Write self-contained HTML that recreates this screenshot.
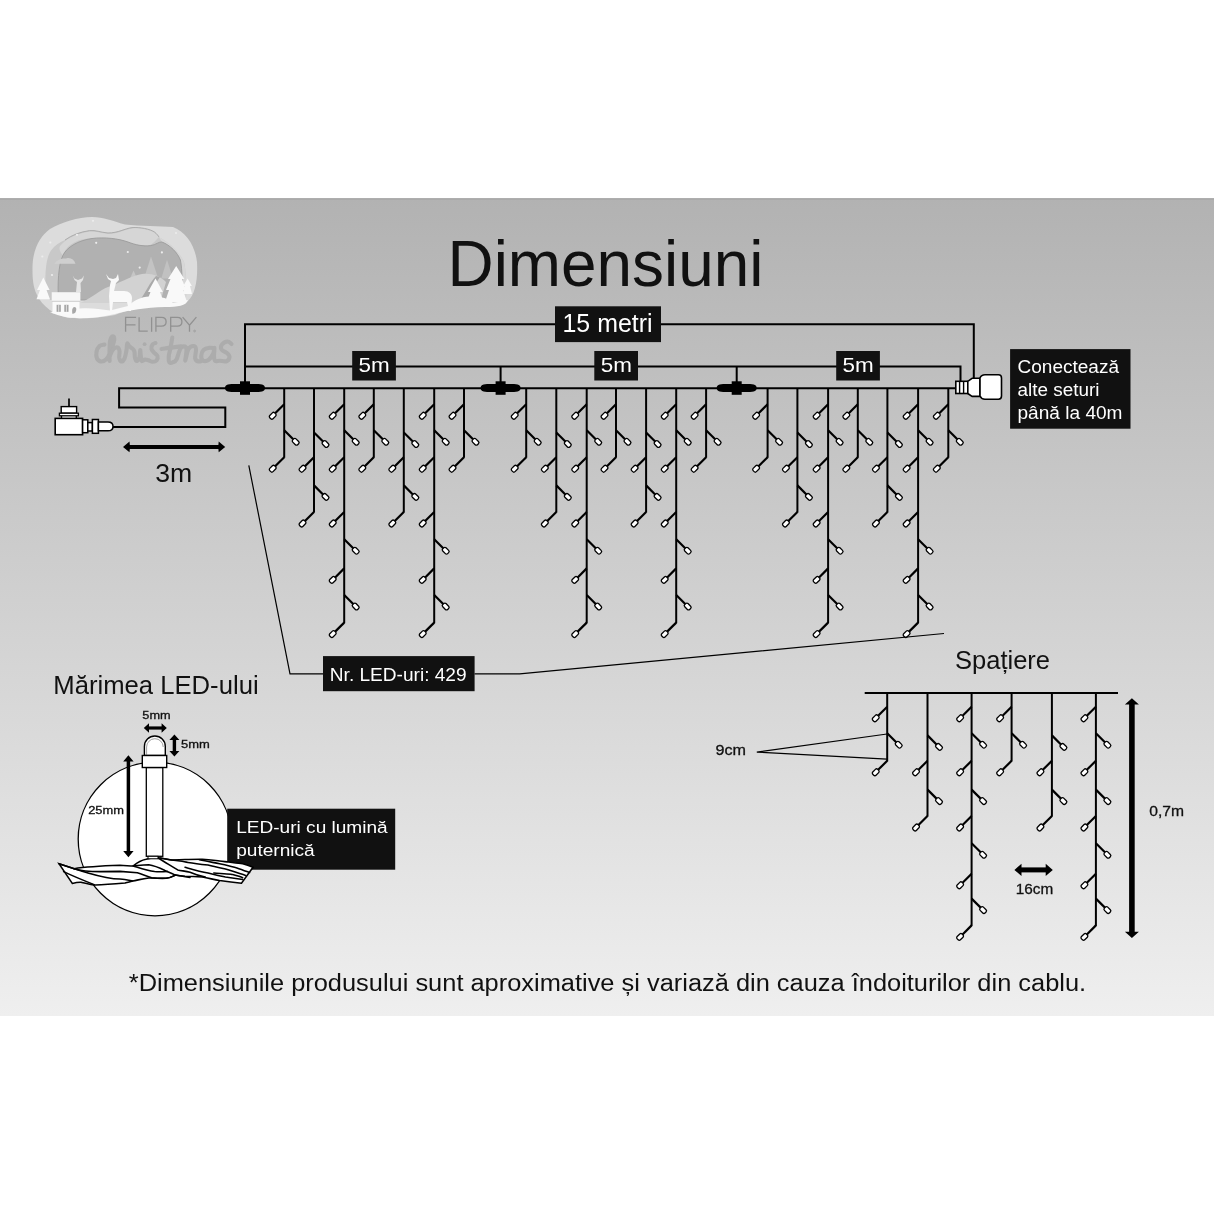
<!DOCTYPE html><html><head><meta charset="utf-8"><style>html,body{margin:0;padding:0;background:#fff;}svg{display:block;will-change:transform}</style></head><body><svg width="1214" height="1214" viewBox="0 0 1214 1214" font-family='"Liberation Sans", sans-serif'><defs><linearGradient id="bg" x1="0" y1="0" x2="0" y2="1"><stop offset="0" stop-color="#b2b2b2"/><stop offset="1" stop-color="#efefef"/></linearGradient></defs><rect x="0" y="0" width="1214" height="1214" fill="#fff"/><rect x="0" y="198" width="1214" height="818" fill="url(#bg)"/><rect x="0" y="198.5" width="1214" height="1.5" fill="#aaaaaa"/><g id="logo"><path d="M32.5,270 C32,250 40,236 50,229 C62,222 78,217 92,217 C104,217 112,221 125,224.5 C140,226 160,226 173,227 C186,232 195,245 197,262 C198,280 195,295 188,301 C180,306 165,306 150,307 C135,308 125,311 115,315 C100,318 80,319 70,318 C55,316 42,306 37,295 C33,287 32.5,278 32.5,270 Z" fill="#dcdcdc"/><path d="M45.4,285 C45,268 47,256 51,250.5 C55,245 60,242 65,240 C72,235 80,232 89.5,230.6 C96,230 100,232.3 108,233 C118,233 125,228.5 132,227.6 C140,227 150,229 154.5,232 C157,234 158.5,236 159,237.2 C168,242 178,250 184,262 C186,270 186.5,285 186,300 L50,300 C47,295 45.5,290 45.4,285 Z" fill="#c8c8c8"/><path d="M60,246 C66,239 76,233.5 89.5,231.5 C97,231 101,233.3 108,233.8 C118,233.8 125,229.3 132,228.4 C140,227.8 149,229.5 154,232.5 C156.5,234.3 158,236 158.8,237.3 C156,240 153,244.5 148,245.6 C138,246.8 130,242 120,239.5 C108,237 93,237 82,239.5 C72,242 65,248 62.9,255.4 C60.5,252.5 58.5,249 60,246 Z" fill="#d6d6d6"/><path d="M65,240 C72,235 80,232 89.5,230.6 C96,230 100,232.3 108,233 C118,233 125,228.5 132,227.6 C140,227 150,229 154.5,232 C157,234 158.5,236 159,237.2" fill="none" stroke="#a8a8a8" stroke-width="0.9"/><path d="M159,237.2 C168,242 178,250 184,262 C186,270 186.5,285 186,300 L181,300 C182,285 182.5,272 180.4,260 C177,252 170,245.5 161.9,241.7 Z" fill="#d7d7d7"/><path d="M58.5,300 C57.5,285 58.2,265 62.9,255.4 C67,247 78,240.5 92,238.5 C105,237 118,238.5 128,242 C135,244.8 143,246.6 150.8,245.6 C156,244.8 159,241.5 161.9,242 C170,245 177.5,252.5 180.4,260 C182.5,270 182.5,288 181,300 Z" fill="#b1b1b1" stroke="#9c9c9c" stroke-width="0.9"/><circle cx="50.3" cy="242.5" r="1.1" fill="#ececec"/><circle cx="42.3" cy="256.5" r="1.1" fill="#ececec"/><circle cx="77" cy="234.8" r="1.1" fill="#ececec"/><circle cx="93" cy="220.8" r="1.1" fill="#ececec"/><circle cx="96.2" cy="242.8" r="1.1" fill="#ececec"/><circle cx="127.8" cy="252" r="1.1" fill="#ececec"/><circle cx="161.9" cy="252.4" r="1.1" fill="#ececec"/><circle cx="139.7" cy="267.6" r="1.1" fill="#ececec"/><circle cx="52" cy="275" r="1.1" fill="#ececec"/><circle cx="176" cy="233" r="1.1" fill="#ececec"/><path d="M80,249.5 A4,4 0 1 0 85,256 A3.2,3.2 0 1 1 80,249.5 Z" fill="#e2e2e2"/><path d="M54.5,263.8 C56,260 62,258 66,258.5 C70,257 74,259 75.5,263.8 Z" fill="#cfcfcf"/><polygon points="144,278.5 151,256.6 158.2,278.5" fill="#c3c3c3"/><polygon points="161.3,278.5 167,259.7 173,278.5" fill="#c1c1c1"/><polygon points="130,278.5 133.5,270.6 137,278.5" fill="#c6c6c6"/><path d="M80,303 C92,298 100,290 108,287 C118,284 130,276 142,274 C152,273 160,276 166,282 L160,303 Z" fill="#d2d2d2"/><path d="M140,300 C146,292 150,282 156,276 L160,277 C154,285 150,294 146,302 Z" fill="#a9a9a9"/><g fill="#f9f9f9"><polygon points="43.3,277.5 37,290 40,290 36.5,299.2 50,299.2 46.5,290 49.6,290"/><polygon points="155.5,278.5 148,292 150.5,292 146.5,303 164,303 160,292 162.9,292"/><polygon points="176.2,266 168,279 170.5,279 166,290 169,290 165,302 187,302 183,290 186,290 182,279 184.4,279"/><polygon points="187.6,278.5 183.2,286 185,286 182.5,294.1 192,294.1 190,286 191.9,286"/><path d="M50,312 L80,308.5 C90,307.5 100,309 110,310.5 L128,306 C135,300 140,297 150,296.5 C160,296 168,298 173,303 L188,300 C186,306 178,307 165,307 C145,307.5 130,310 115,314 C100,318 80,319 68,317.5 C60,316 54,314 50,312 Z"/><path d="M106,274 L108,279 L111,281 L110,285 L109,296 L110,311 L112,311 L113,302 L127,302 L129,311 L131,311 L132,298 C132,294 129,291 124,291 L114,291 L116,283 L119,280 L118,274 L116,278 L113,279 L109,278 Z"/><path d="M72.7,275.4 L74.5,280 L77,282 L76,292 L81,292 L80.5,283 L83,280 L83.9,275.4 L82,278.5 L78,280 L74.5,278.5 Z" fill="#e4e4e4"/><rect x="51.7" y="292.2" width="28.7" height="9.1" fill="#f6f6f6"/><rect x="52.5" y="301.3" width="27" height="12" fill="#fafafa"/></g><line x1="51.7" y1="301.3" x2="80.4" y2="301.3" stroke="#c4c4c4" stroke-width="0.8"/><rect x="56.6" y="304.8" width="4.2" height="7" fill="#a4a4a4"/><rect x="64.3" y="304.8" width="4.2" height="7" fill="#a4a4a4"/><line x1="58.7" y1="304.8" x2="58.7" y2="311.8" stroke="#eee" stroke-width="0.8"/><line x1="66.4" y1="304.8" x2="66.4" y2="311.8" stroke="#eee" stroke-width="0.8"/><path d="M72.5,314 C71.5,310 72.5,307 74.5,307 C76.5,307 77,310 75,313 Z" fill="#a8a8a8"/></g><g fill="none" stroke="#919191" stroke-width="1.3" stroke-linejoin="miter"><path d="M125.6,331.8 V317.3 H136.1 M125.6,324.9 H135.5"/><path d="M139.1,317.3 V331.2 H147.7"/><path d="M151.6,317.3 V331.8"/><path d="M155.9,331.8 V317.3 H161.5 C164.5,317.3 166.1,319.3 166.1,321.75 C166.1,324.2 164.5,326.2 161.5,326.2 H155.9"/><path d="M170.7,331.8 V317.3 H177.3 C180.3,317.3 181.9,319.3 181.9,321.75 C181.9,324.2 180.3,326.2 177.3,326.2 H170.7"/><path d="M182.6,317.2 L189.5,325.2 L196.4,317.2 M189.5,325.2 V331.8"/><circle cx="194.6" cy="331" r="0.9" stroke-width="0.6"/></g><g fill="none" stroke="#acacac" stroke-width="4.1" stroke-linecap="round" stroke-linejoin="round"><path d="M104.5,344.5 C103.7,344.8 100.8,344.8 99.5,346.0 C98.2,347.2 96.9,349.9 96.5,352.0 C96.1,354.1 96.2,356.9 97.0,358.5 C97.8,360.1 99.5,361.3 101.0,361.5 C102.5,361.7 104.5,360.9 106.0,359.5 C107.5,358.1 108.8,355.8 110.0,353.0 C111.2,350.2 112.8,345.6 113.5,343.0 C114.2,340.4 114.5,338.6 114.2,337.5 C114.0,336.4 112.7,335.9 112.0,336.5 C111.3,337.1 110.4,338.4 110.0,341.0 C109.6,343.6 109.6,348.7 109.5,352.0 C109.4,355.3 109.6,359.5 109.6,361.0"/><path d="M109.8,356.0 C110.3,354.9 111.7,350.9 113.0,349.5 C114.3,348.1 116.4,347.2 117.5,347.5 C118.6,347.8 119.2,349.3 119.5,351.0 C119.8,352.7 119.0,355.8 119.2,357.5 C119.5,359.2 120.1,361.3 121.0,361.5 C121.9,361.7 123.6,360.4 124.5,358.5 C125.4,356.6 126.0,352.5 126.5,350.0 C127.0,347.5 126.7,344.1 127.2,343.5 C127.7,342.9 128.5,345.6 129.5,346.5 C130.5,347.4 132.2,348.1 133.0,349.0 C133.8,349.9 134.2,350.5 134.5,352.0 C134.8,353.5 134.6,356.5 135.0,358.0 C135.4,359.5 136.2,361.2 137.0,361.0 C137.8,360.8 139.0,358.8 139.5,357.0 C140.0,355.2 140.0,350.2 140.2,350.0 C140.4,349.8 140.5,354.2 140.8,356.0 C141.1,357.8 141.1,360.4 141.8,361.0 C142.5,361.6 143.9,359.6 145.0,359.5 C146.1,359.4 147.2,359.9 148.5,360.3 C149.8,360.7 151.2,361.8 152.5,361.8 C153.8,361.8 155.7,361.5 156.5,360.5 C157.3,359.5 157.9,357.3 157.5,356.0 C157.1,354.7 155.0,353.7 154.0,352.5 C153.0,351.3 151.8,350.3 151.5,349.0 C151.2,347.7 151.8,345.5 152.5,344.5 C153.2,343.5 155.0,343.2 155.5,343.0"/><path d="M172.3,337.5 C172.0,339.2 171.1,344.9 170.5,348.0 C169.9,351.1 169.0,353.6 168.8,356.0 C168.6,358.4 168.7,361.5 169.5,362.5 C170.3,363.5 172.3,362.5 173.5,362.0 C174.7,361.5 175.3,361.8 176.5,359.5 C177.7,357.2 179.1,350.7 180.5,348.5 C181.9,346.3 184.0,346.2 185.0,346.5 C186.0,346.8 186.4,347.7 186.5,350.0 C186.6,352.3 185.0,360.7 185.3,360.5 C185.6,360.3 187.1,351.4 188.5,349.0 C189.9,346.6 192.8,345.9 194.0,346.0 C195.2,346.1 195.8,347.4 196.0,349.5 C196.2,351.6 194.8,356.5 195.2,358.5 C195.6,360.5 197.3,361.2 198.5,361.5 C199.7,361.8 201.8,360.7 202.5,360.5"/><path d="M161.5,349.0 C163.1,348.8 167.8,348.0 171.0,347.6 C174.2,347.2 179.3,346.6 181.0,346.4"/><path d="M214.3,348.2 C213.5,348.1 211.3,347.5 209.5,347.8 C207.7,348.1 204.9,348.7 203.5,350.0 C202.1,351.3 201.4,353.8 201.3,355.5 C201.2,357.2 201.8,359.8 203.0,360.5 C204.2,361.2 206.8,361.1 208.5,360.0 C210.2,358.9 212.0,356.0 213.0,354.0 C214.0,352.0 214.3,347.7 214.5,348.0 C214.7,348.3 213.9,353.8 214.0,356.0 C214.1,358.2 214.3,360.2 215.2,361.0 C216.1,361.8 217.6,360.8 219.5,360.8 C221.4,360.8 224.8,361.8 226.5,361.2 C228.2,360.6 229.4,358.4 229.5,357.0 C229.6,355.6 228.3,354.2 227.0,353.0 C225.7,351.8 222.3,350.9 221.5,349.5 C220.7,348.1 221.0,345.8 222.0,344.5 C223.0,343.2 225.9,341.6 227.5,341.5 C229.1,341.4 230.8,343.6 231.5,344.0"/></g><circle cx="144.6" cy="344.2" r="1.9" fill="#acacac"/><text x="447.5" y="285.7" font-size="64" fill="#111" textLength="316" lengthAdjust="spacingAndGlyphs">Dimensiuni</text><path d="M245,388 V324.3 H973.8 V378.5" fill="none" stroke="#000" stroke-width="2"/><path d="M245,366.6 H960.5 V381.5" fill="none" stroke="#000" stroke-width="2"/><path d="M500.6,366.6 V384 M736.7,366.6 V384" fill="none" stroke="#000" stroke-width="2"/><path d="M113,427 H225.3 V407.6 H119.1 V388.2 H956" fill="none" stroke="#000" stroke-width="2"/><line x1="127" y1="446.9" x2="221" y2="446.9" stroke="#000" stroke-width="4"/><path d="M123,446.9 L129.5,441.6 L130,446.9 L129.5,452.2 Z M225.2,446.9 L218.7,441.6 L218.2,446.9 L218.7,452.2 Z" fill="#000"/><text x="155.2" y="481.7" font-size="25.5" fill="#111" textLength="37" lengthAdjust="spacingAndGlyphs">3m</text><path d="M225,388 C225,383.6 231,384 240,384 L250,384 C259,384 265,383.6 265,388 C265,392.4 259,392 250,392 L240,392 C231,392 225,392.4 225,388 Z" fill="#000"/><rect x="240" y="381.3" width="10" height="13.5" fill="#000"/><path d="M480.6,388 C480.6,383.6 486.6,384 495.6,384 L505.6,384 C514.6,384 520.6,383.6 520.6,388 C520.6,392.4 514.6,392 505.6,392 L495.6,392 C486.6,392 480.6,392.4 480.6,388 Z" fill="#000"/><rect x="495.6" y="381.3" width="10" height="13.5" fill="#000"/><path d="M716.7,388 C716.7,383.6 722.7,384 731.7,384 L741.7,384 C750.7,384 756.7,383.6 756.7,388 C756.7,392.4 750.7,392 741.7,392 L731.7,392 C722.7,392 716.7,392.4 716.7,388 Z" fill="#000"/><rect x="731.7" y="381.3" width="10" height="13.5" fill="#000"/><rect x="955.8" y="381.3" width="12" height="12.2" fill="#fff" stroke="#000" stroke-width="1.6"/><path d="M959.6,381.3 V393.5 M963.6,381.3 V393.5" stroke="#000" stroke-width="1.4"/><path d="M967.8,381.3 L972,378.3 L980,378.3 L980,396.4 L972,396.4 L967.8,393.5 Z" fill="#fff" stroke="#000" stroke-width="1.6" stroke-linejoin="round"/><path d="M980,378 C981,375.5 982,374.8 985,374.8 L998.5,374.8 Q1001.5,374.8 1001.5,378 L1001.5,396 Q1001.5,399.2 998.5,399.2 L985,399.2 C982,399.2 981,398.5 980,396 Z" fill="#fff" stroke="#000" stroke-width="1.6"/><line x1="69" y1="398.5" x2="69" y2="407" stroke="#000" stroke-width="1.7"/><rect x="61.2" y="406.6" width="15.4" height="6.6" fill="#fff" stroke="#000" stroke-width="1.4"/><rect x="61.5" y="415.6" width="14.8" height="3" fill="#fff"/><path d="M61.5,415.6 V418.6 M76.3,415.6 V418.6" stroke="#000" stroke-width="1.3"/><rect x="59.4" y="413.2" width="19" height="2.6" fill="#fff" stroke="#000" stroke-width="1.3"/><rect x="55.2" y="418.4" width="27.4" height="16.3" fill="#fff" stroke="#000" stroke-width="1.6"/><rect x="82.6" y="419.8" width="5.2" height="12.9" fill="#fff" stroke="#000" stroke-width="1.5"/><rect x="87.8" y="422.6" width="4.6" height="8.4" fill="#fff" stroke="#000" stroke-width="1.5"/><rect x="92.4" y="419.5" width="6" height="13.8" fill="#fff" stroke="#000" stroke-width="1.5"/><path d="M98.4,422 L108,422 C111.5,422 113,424 113,426.4 C113,428.8 111.5,430.8 108,430.8 L98.4,430.8 Z" fill="#fff" stroke="#000" stroke-width="1.5"/><rect x="555" y="306.3" width="106" height="35.8" fill="#111"/><text x="562.5" y="331.7" font-size="25.5" fill="#fff" textLength="90" lengthAdjust="spacingAndGlyphs">15 metri</text><rect x="352.2" y="351" width="43.7" height="29.5" fill="#111"/><text x="358.6" y="371.9" font-size="21" fill="#fff" textLength="31.2" lengthAdjust="spacingAndGlyphs">5m</text><rect x="594.3" y="351" width="43.7" height="29.5" fill="#111"/><text x="600.7" y="371.9" font-size="21" fill="#fff" textLength="31.2" lengthAdjust="spacingAndGlyphs">5m</text><rect x="836.2" y="351" width="43.7" height="29.5" fill="#111"/><text x="842.6" y="371.9" font-size="21" fill="#fff" textLength="31.2" lengthAdjust="spacingAndGlyphs">5m</text><rect x="1010.1" y="349.1" width="120.4" height="79.6" fill="#111"/><text x="1017.5" y="373.1" font-size="18.3" fill="#fff" textLength="101.5" lengthAdjust="spacingAndGlyphs">Conectează</text><text x="1017.5" y="395.9" font-size="18.3" fill="#fff" textLength="82" lengthAdjust="spacingAndGlyphs">alte seturi</text><text x="1017.5" y="418.9" font-size="18.3" fill="#fff" textLength="105" lengthAdjust="spacingAndGlyphs">până la 40m</text><line x1="284.2" y1="388" x2="284.2" y2="457.8" stroke="#000" stroke-width="2"/><g transform="translate(284.2,404.3) rotate(135)"><line x1="0" y1="0" x2="13.5" y2="0" stroke="#000" stroke-width="2.2"/><rect x="12.8" y="-2.3" width="6.9" height="4.6" rx="1.6" fill="#fff" stroke="#000" stroke-width="1.3"/></g><g transform="translate(284.2,430.3) rotate(45)"><line x1="0" y1="0" x2="13.5" y2="0" stroke="#000" stroke-width="2.2"/><rect x="12.8" y="-2.3" width="6.9" height="4.6" rx="1.6" fill="#fff" stroke="#000" stroke-width="1.3"/></g><g transform="translate(284.2,457.2) rotate(135)"><line x1="0" y1="0" x2="13.5" y2="0" stroke="#000" stroke-width="2.2"/><rect x="12.8" y="-2.3" width="6.9" height="4.6" rx="1.6" fill="#fff" stroke="#000" stroke-width="1.3"/></g><line x1="314.0" y1="388" x2="314.0" y2="512.6" stroke="#000" stroke-width="2"/><g transform="translate(314.0,432.5) rotate(45)"><line x1="0" y1="0" x2="13.5" y2="0" stroke="#000" stroke-width="2.2"/><rect x="12.8" y="-2.3" width="6.9" height="4.6" rx="1.6" fill="#fff" stroke="#000" stroke-width="1.3"/></g><g transform="translate(314.0,457.2) rotate(135)"><line x1="0" y1="0" x2="13.5" y2="0" stroke="#000" stroke-width="2.2"/><rect x="12.8" y="-2.3" width="6.9" height="4.6" rx="1.6" fill="#fff" stroke="#000" stroke-width="1.3"/></g><g transform="translate(314.0,485.4) rotate(45)"><line x1="0" y1="0" x2="13.5" y2="0" stroke="#000" stroke-width="2.2"/><rect x="12.8" y="-2.3" width="6.9" height="4.6" rx="1.6" fill="#fff" stroke="#000" stroke-width="1.3"/></g><g transform="translate(314.0,512.0) rotate(135)"><line x1="0" y1="0" x2="13.5" y2="0" stroke="#000" stroke-width="2.2"/><rect x="12.8" y="-2.3" width="6.9" height="4.6" rx="1.6" fill="#fff" stroke="#000" stroke-width="1.3"/></g><line x1="344.2" y1="388" x2="344.2" y2="623.2" stroke="#000" stroke-width="2"/><g transform="translate(344.2,404.3) rotate(135)"><line x1="0" y1="0" x2="13.5" y2="0" stroke="#000" stroke-width="2.2"/><rect x="12.8" y="-2.3" width="6.9" height="4.6" rx="1.6" fill="#fff" stroke="#000" stroke-width="1.3"/></g><g transform="translate(344.2,430.3) rotate(45)"><line x1="0" y1="0" x2="13.5" y2="0" stroke="#000" stroke-width="2.2"/><rect x="12.8" y="-2.3" width="6.9" height="4.6" rx="1.6" fill="#fff" stroke="#000" stroke-width="1.3"/></g><g transform="translate(344.2,457.2) rotate(135)"><line x1="0" y1="0" x2="13.5" y2="0" stroke="#000" stroke-width="2.2"/><rect x="12.8" y="-2.3" width="6.9" height="4.6" rx="1.6" fill="#fff" stroke="#000" stroke-width="1.3"/></g><g transform="translate(344.2,512.0) rotate(135)"><line x1="0" y1="0" x2="13.5" y2="0" stroke="#000" stroke-width="2.2"/><rect x="12.8" y="-2.3" width="6.9" height="4.6" rx="1.6" fill="#fff" stroke="#000" stroke-width="1.3"/></g><g transform="translate(344.2,539.2) rotate(45)"><line x1="0" y1="0" x2="13.5" y2="0" stroke="#000" stroke-width="2.2"/><rect x="12.8" y="-2.3" width="6.9" height="4.6" rx="1.6" fill="#fff" stroke="#000" stroke-width="1.3"/></g><g transform="translate(344.2,568.4) rotate(135)"><line x1="0" y1="0" x2="13.5" y2="0" stroke="#000" stroke-width="2.2"/><rect x="12.8" y="-2.3" width="6.9" height="4.6" rx="1.6" fill="#fff" stroke="#000" stroke-width="1.3"/></g><g transform="translate(344.2,595.0) rotate(45)"><line x1="0" y1="0" x2="13.5" y2="0" stroke="#000" stroke-width="2.2"/><rect x="12.8" y="-2.3" width="6.9" height="4.6" rx="1.6" fill="#fff" stroke="#000" stroke-width="1.3"/></g><g transform="translate(344.2,622.6) rotate(135)"><line x1="0" y1="0" x2="13.5" y2="0" stroke="#000" stroke-width="2.2"/><rect x="12.8" y="-2.3" width="6.9" height="4.6" rx="1.6" fill="#fff" stroke="#000" stroke-width="1.3"/></g><line x1="373.8" y1="388" x2="373.8" y2="457.8" stroke="#000" stroke-width="2"/><g transform="translate(373.8,404.3) rotate(135)"><line x1="0" y1="0" x2="13.5" y2="0" stroke="#000" stroke-width="2.2"/><rect x="12.8" y="-2.3" width="6.9" height="4.6" rx="1.6" fill="#fff" stroke="#000" stroke-width="1.3"/></g><g transform="translate(373.8,430.3) rotate(45)"><line x1="0" y1="0" x2="13.5" y2="0" stroke="#000" stroke-width="2.2"/><rect x="12.8" y="-2.3" width="6.9" height="4.6" rx="1.6" fill="#fff" stroke="#000" stroke-width="1.3"/></g><g transform="translate(373.8,457.2) rotate(135)"><line x1="0" y1="0" x2="13.5" y2="0" stroke="#000" stroke-width="2.2"/><rect x="12.8" y="-2.3" width="6.9" height="4.6" rx="1.6" fill="#fff" stroke="#000" stroke-width="1.3"/></g><line x1="403.8" y1="388" x2="403.8" y2="512.6" stroke="#000" stroke-width="2"/><g transform="translate(403.8,432.5) rotate(45)"><line x1="0" y1="0" x2="13.5" y2="0" stroke="#000" stroke-width="2.2"/><rect x="12.8" y="-2.3" width="6.9" height="4.6" rx="1.6" fill="#fff" stroke="#000" stroke-width="1.3"/></g><g transform="translate(403.8,457.2) rotate(135)"><line x1="0" y1="0" x2="13.5" y2="0" stroke="#000" stroke-width="2.2"/><rect x="12.8" y="-2.3" width="6.9" height="4.6" rx="1.6" fill="#fff" stroke="#000" stroke-width="1.3"/></g><g transform="translate(403.8,485.4) rotate(45)"><line x1="0" y1="0" x2="13.5" y2="0" stroke="#000" stroke-width="2.2"/><rect x="12.8" y="-2.3" width="6.9" height="4.6" rx="1.6" fill="#fff" stroke="#000" stroke-width="1.3"/></g><g transform="translate(403.8,512.0) rotate(135)"><line x1="0" y1="0" x2="13.5" y2="0" stroke="#000" stroke-width="2.2"/><rect x="12.8" y="-2.3" width="6.9" height="4.6" rx="1.6" fill="#fff" stroke="#000" stroke-width="1.3"/></g><line x1="434.2" y1="388" x2="434.2" y2="623.2" stroke="#000" stroke-width="2"/><g transform="translate(434.2,404.3) rotate(135)"><line x1="0" y1="0" x2="13.5" y2="0" stroke="#000" stroke-width="2.2"/><rect x="12.8" y="-2.3" width="6.9" height="4.6" rx="1.6" fill="#fff" stroke="#000" stroke-width="1.3"/></g><g transform="translate(434.2,430.3) rotate(45)"><line x1="0" y1="0" x2="13.5" y2="0" stroke="#000" stroke-width="2.2"/><rect x="12.8" y="-2.3" width="6.9" height="4.6" rx="1.6" fill="#fff" stroke="#000" stroke-width="1.3"/></g><g transform="translate(434.2,457.2) rotate(135)"><line x1="0" y1="0" x2="13.5" y2="0" stroke="#000" stroke-width="2.2"/><rect x="12.8" y="-2.3" width="6.9" height="4.6" rx="1.6" fill="#fff" stroke="#000" stroke-width="1.3"/></g><g transform="translate(434.2,512.0) rotate(135)"><line x1="0" y1="0" x2="13.5" y2="0" stroke="#000" stroke-width="2.2"/><rect x="12.8" y="-2.3" width="6.9" height="4.6" rx="1.6" fill="#fff" stroke="#000" stroke-width="1.3"/></g><g transform="translate(434.2,539.2) rotate(45)"><line x1="0" y1="0" x2="13.5" y2="0" stroke="#000" stroke-width="2.2"/><rect x="12.8" y="-2.3" width="6.9" height="4.6" rx="1.6" fill="#fff" stroke="#000" stroke-width="1.3"/></g><g transform="translate(434.2,568.4) rotate(135)"><line x1="0" y1="0" x2="13.5" y2="0" stroke="#000" stroke-width="2.2"/><rect x="12.8" y="-2.3" width="6.9" height="4.6" rx="1.6" fill="#fff" stroke="#000" stroke-width="1.3"/></g><g transform="translate(434.2,595.0) rotate(45)"><line x1="0" y1="0" x2="13.5" y2="0" stroke="#000" stroke-width="2.2"/><rect x="12.8" y="-2.3" width="6.9" height="4.6" rx="1.6" fill="#fff" stroke="#000" stroke-width="1.3"/></g><g transform="translate(434.2,622.6) rotate(135)"><line x1="0" y1="0" x2="13.5" y2="0" stroke="#000" stroke-width="2.2"/><rect x="12.8" y="-2.3" width="6.9" height="4.6" rx="1.6" fill="#fff" stroke="#000" stroke-width="1.3"/></g><line x1="464.0" y1="388" x2="464.0" y2="457.8" stroke="#000" stroke-width="2"/><g transform="translate(464.0,404.3) rotate(135)"><line x1="0" y1="0" x2="13.5" y2="0" stroke="#000" stroke-width="2.2"/><rect x="12.8" y="-2.3" width="6.9" height="4.6" rx="1.6" fill="#fff" stroke="#000" stroke-width="1.3"/></g><g transform="translate(464.0,430.3) rotate(45)"><line x1="0" y1="0" x2="13.5" y2="0" stroke="#000" stroke-width="2.2"/><rect x="12.8" y="-2.3" width="6.9" height="4.6" rx="1.6" fill="#fff" stroke="#000" stroke-width="1.3"/></g><g transform="translate(464.0,457.2) rotate(135)"><line x1="0" y1="0" x2="13.5" y2="0" stroke="#000" stroke-width="2.2"/><rect x="12.8" y="-2.3" width="6.9" height="4.6" rx="1.6" fill="#fff" stroke="#000" stroke-width="1.3"/></g><line x1="526.2" y1="388" x2="526.2" y2="457.8" stroke="#000" stroke-width="2"/><g transform="translate(526.2,404.3) rotate(135)"><line x1="0" y1="0" x2="13.5" y2="0" stroke="#000" stroke-width="2.2"/><rect x="12.8" y="-2.3" width="6.9" height="4.6" rx="1.6" fill="#fff" stroke="#000" stroke-width="1.3"/></g><g transform="translate(526.2,430.3) rotate(45)"><line x1="0" y1="0" x2="13.5" y2="0" stroke="#000" stroke-width="2.2"/><rect x="12.8" y="-2.3" width="6.9" height="4.6" rx="1.6" fill="#fff" stroke="#000" stroke-width="1.3"/></g><g transform="translate(526.2,457.2) rotate(135)"><line x1="0" y1="0" x2="13.5" y2="0" stroke="#000" stroke-width="2.2"/><rect x="12.8" y="-2.3" width="6.9" height="4.6" rx="1.6" fill="#fff" stroke="#000" stroke-width="1.3"/></g><line x1="556.3" y1="388" x2="556.3" y2="512.6" stroke="#000" stroke-width="2"/><g transform="translate(556.3,432.5) rotate(45)"><line x1="0" y1="0" x2="13.5" y2="0" stroke="#000" stroke-width="2.2"/><rect x="12.8" y="-2.3" width="6.9" height="4.6" rx="1.6" fill="#fff" stroke="#000" stroke-width="1.3"/></g><g transform="translate(556.3,457.2) rotate(135)"><line x1="0" y1="0" x2="13.5" y2="0" stroke="#000" stroke-width="2.2"/><rect x="12.8" y="-2.3" width="6.9" height="4.6" rx="1.6" fill="#fff" stroke="#000" stroke-width="1.3"/></g><g transform="translate(556.3,485.4) rotate(45)"><line x1="0" y1="0" x2="13.5" y2="0" stroke="#000" stroke-width="2.2"/><rect x="12.8" y="-2.3" width="6.9" height="4.6" rx="1.6" fill="#fff" stroke="#000" stroke-width="1.3"/></g><g transform="translate(556.3,512.0) rotate(135)"><line x1="0" y1="0" x2="13.5" y2="0" stroke="#000" stroke-width="2.2"/><rect x="12.8" y="-2.3" width="6.9" height="4.6" rx="1.6" fill="#fff" stroke="#000" stroke-width="1.3"/></g><line x1="586.7" y1="388" x2="586.7" y2="623.2" stroke="#000" stroke-width="2"/><g transform="translate(586.7,404.3) rotate(135)"><line x1="0" y1="0" x2="13.5" y2="0" stroke="#000" stroke-width="2.2"/><rect x="12.8" y="-2.3" width="6.9" height="4.6" rx="1.6" fill="#fff" stroke="#000" stroke-width="1.3"/></g><g transform="translate(586.7,430.3) rotate(45)"><line x1="0" y1="0" x2="13.5" y2="0" stroke="#000" stroke-width="2.2"/><rect x="12.8" y="-2.3" width="6.9" height="4.6" rx="1.6" fill="#fff" stroke="#000" stroke-width="1.3"/></g><g transform="translate(586.7,457.2) rotate(135)"><line x1="0" y1="0" x2="13.5" y2="0" stroke="#000" stroke-width="2.2"/><rect x="12.8" y="-2.3" width="6.9" height="4.6" rx="1.6" fill="#fff" stroke="#000" stroke-width="1.3"/></g><g transform="translate(586.7,512.0) rotate(135)"><line x1="0" y1="0" x2="13.5" y2="0" stroke="#000" stroke-width="2.2"/><rect x="12.8" y="-2.3" width="6.9" height="4.6" rx="1.6" fill="#fff" stroke="#000" stroke-width="1.3"/></g><g transform="translate(586.7,539.2) rotate(45)"><line x1="0" y1="0" x2="13.5" y2="0" stroke="#000" stroke-width="2.2"/><rect x="12.8" y="-2.3" width="6.9" height="4.6" rx="1.6" fill="#fff" stroke="#000" stroke-width="1.3"/></g><g transform="translate(586.7,568.4) rotate(135)"><line x1="0" y1="0" x2="13.5" y2="0" stroke="#000" stroke-width="2.2"/><rect x="12.8" y="-2.3" width="6.9" height="4.6" rx="1.6" fill="#fff" stroke="#000" stroke-width="1.3"/></g><g transform="translate(586.7,595.0) rotate(45)"><line x1="0" y1="0" x2="13.5" y2="0" stroke="#000" stroke-width="2.2"/><rect x="12.8" y="-2.3" width="6.9" height="4.6" rx="1.6" fill="#fff" stroke="#000" stroke-width="1.3"/></g><g transform="translate(586.7,622.6) rotate(135)"><line x1="0" y1="0" x2="13.5" y2="0" stroke="#000" stroke-width="2.2"/><rect x="12.8" y="-2.3" width="6.9" height="4.6" rx="1.6" fill="#fff" stroke="#000" stroke-width="1.3"/></g><line x1="616.0" y1="388" x2="616.0" y2="457.8" stroke="#000" stroke-width="2"/><g transform="translate(616.0,404.3) rotate(135)"><line x1="0" y1="0" x2="13.5" y2="0" stroke="#000" stroke-width="2.2"/><rect x="12.8" y="-2.3" width="6.9" height="4.6" rx="1.6" fill="#fff" stroke="#000" stroke-width="1.3"/></g><g transform="translate(616.0,430.3) rotate(45)"><line x1="0" y1="0" x2="13.5" y2="0" stroke="#000" stroke-width="2.2"/><rect x="12.8" y="-2.3" width="6.9" height="4.6" rx="1.6" fill="#fff" stroke="#000" stroke-width="1.3"/></g><g transform="translate(616.0,457.2) rotate(135)"><line x1="0" y1="0" x2="13.5" y2="0" stroke="#000" stroke-width="2.2"/><rect x="12.8" y="-2.3" width="6.9" height="4.6" rx="1.6" fill="#fff" stroke="#000" stroke-width="1.3"/></g><line x1="646.1" y1="388" x2="646.1" y2="512.6" stroke="#000" stroke-width="2"/><g transform="translate(646.1,432.5) rotate(45)"><line x1="0" y1="0" x2="13.5" y2="0" stroke="#000" stroke-width="2.2"/><rect x="12.8" y="-2.3" width="6.9" height="4.6" rx="1.6" fill="#fff" stroke="#000" stroke-width="1.3"/></g><g transform="translate(646.1,457.2) rotate(135)"><line x1="0" y1="0" x2="13.5" y2="0" stroke="#000" stroke-width="2.2"/><rect x="12.8" y="-2.3" width="6.9" height="4.6" rx="1.6" fill="#fff" stroke="#000" stroke-width="1.3"/></g><g transform="translate(646.1,485.4) rotate(45)"><line x1="0" y1="0" x2="13.5" y2="0" stroke="#000" stroke-width="2.2"/><rect x="12.8" y="-2.3" width="6.9" height="4.6" rx="1.6" fill="#fff" stroke="#000" stroke-width="1.3"/></g><g transform="translate(646.1,512.0) rotate(135)"><line x1="0" y1="0" x2="13.5" y2="0" stroke="#000" stroke-width="2.2"/><rect x="12.8" y="-2.3" width="6.9" height="4.6" rx="1.6" fill="#fff" stroke="#000" stroke-width="1.3"/></g><line x1="676.2" y1="388" x2="676.2" y2="623.2" stroke="#000" stroke-width="2"/><g transform="translate(676.2,404.3) rotate(135)"><line x1="0" y1="0" x2="13.5" y2="0" stroke="#000" stroke-width="2.2"/><rect x="12.8" y="-2.3" width="6.9" height="4.6" rx="1.6" fill="#fff" stroke="#000" stroke-width="1.3"/></g><g transform="translate(676.2,430.3) rotate(45)"><line x1="0" y1="0" x2="13.5" y2="0" stroke="#000" stroke-width="2.2"/><rect x="12.8" y="-2.3" width="6.9" height="4.6" rx="1.6" fill="#fff" stroke="#000" stroke-width="1.3"/></g><g transform="translate(676.2,457.2) rotate(135)"><line x1="0" y1="0" x2="13.5" y2="0" stroke="#000" stroke-width="2.2"/><rect x="12.8" y="-2.3" width="6.9" height="4.6" rx="1.6" fill="#fff" stroke="#000" stroke-width="1.3"/></g><g transform="translate(676.2,512.0) rotate(135)"><line x1="0" y1="0" x2="13.5" y2="0" stroke="#000" stroke-width="2.2"/><rect x="12.8" y="-2.3" width="6.9" height="4.6" rx="1.6" fill="#fff" stroke="#000" stroke-width="1.3"/></g><g transform="translate(676.2,539.2) rotate(45)"><line x1="0" y1="0" x2="13.5" y2="0" stroke="#000" stroke-width="2.2"/><rect x="12.8" y="-2.3" width="6.9" height="4.6" rx="1.6" fill="#fff" stroke="#000" stroke-width="1.3"/></g><g transform="translate(676.2,568.4) rotate(135)"><line x1="0" y1="0" x2="13.5" y2="0" stroke="#000" stroke-width="2.2"/><rect x="12.8" y="-2.3" width="6.9" height="4.6" rx="1.6" fill="#fff" stroke="#000" stroke-width="1.3"/></g><g transform="translate(676.2,595.0) rotate(45)"><line x1="0" y1="0" x2="13.5" y2="0" stroke="#000" stroke-width="2.2"/><rect x="12.8" y="-2.3" width="6.9" height="4.6" rx="1.6" fill="#fff" stroke="#000" stroke-width="1.3"/></g><g transform="translate(676.2,622.6) rotate(135)"><line x1="0" y1="0" x2="13.5" y2="0" stroke="#000" stroke-width="2.2"/><rect x="12.8" y="-2.3" width="6.9" height="4.6" rx="1.6" fill="#fff" stroke="#000" stroke-width="1.3"/></g><line x1="706.1" y1="388" x2="706.1" y2="457.8" stroke="#000" stroke-width="2"/><g transform="translate(706.1,404.3) rotate(135)"><line x1="0" y1="0" x2="13.5" y2="0" stroke="#000" stroke-width="2.2"/><rect x="12.8" y="-2.3" width="6.9" height="4.6" rx="1.6" fill="#fff" stroke="#000" stroke-width="1.3"/></g><g transform="translate(706.1,430.3) rotate(45)"><line x1="0" y1="0" x2="13.5" y2="0" stroke="#000" stroke-width="2.2"/><rect x="12.8" y="-2.3" width="6.9" height="4.6" rx="1.6" fill="#fff" stroke="#000" stroke-width="1.3"/></g><g transform="translate(706.1,457.2) rotate(135)"><line x1="0" y1="0" x2="13.5" y2="0" stroke="#000" stroke-width="2.2"/><rect x="12.8" y="-2.3" width="6.9" height="4.6" rx="1.6" fill="#fff" stroke="#000" stroke-width="1.3"/></g><line x1="767.6" y1="388" x2="767.6" y2="457.8" stroke="#000" stroke-width="2"/><g transform="translate(767.6,404.3) rotate(135)"><line x1="0" y1="0" x2="13.5" y2="0" stroke="#000" stroke-width="2.2"/><rect x="12.8" y="-2.3" width="6.9" height="4.6" rx="1.6" fill="#fff" stroke="#000" stroke-width="1.3"/></g><g transform="translate(767.6,430.3) rotate(45)"><line x1="0" y1="0" x2="13.5" y2="0" stroke="#000" stroke-width="2.2"/><rect x="12.8" y="-2.3" width="6.9" height="4.6" rx="1.6" fill="#fff" stroke="#000" stroke-width="1.3"/></g><g transform="translate(767.6,457.2) rotate(135)"><line x1="0" y1="0" x2="13.5" y2="0" stroke="#000" stroke-width="2.2"/><rect x="12.8" y="-2.3" width="6.9" height="4.6" rx="1.6" fill="#fff" stroke="#000" stroke-width="1.3"/></g><line x1="797.4" y1="388" x2="797.4" y2="512.6" stroke="#000" stroke-width="2"/><g transform="translate(797.4,432.5) rotate(45)"><line x1="0" y1="0" x2="13.5" y2="0" stroke="#000" stroke-width="2.2"/><rect x="12.8" y="-2.3" width="6.9" height="4.6" rx="1.6" fill="#fff" stroke="#000" stroke-width="1.3"/></g><g transform="translate(797.4,457.2) rotate(135)"><line x1="0" y1="0" x2="13.5" y2="0" stroke="#000" stroke-width="2.2"/><rect x="12.8" y="-2.3" width="6.9" height="4.6" rx="1.6" fill="#fff" stroke="#000" stroke-width="1.3"/></g><g transform="translate(797.4,485.4) rotate(45)"><line x1="0" y1="0" x2="13.5" y2="0" stroke="#000" stroke-width="2.2"/><rect x="12.8" y="-2.3" width="6.9" height="4.6" rx="1.6" fill="#fff" stroke="#000" stroke-width="1.3"/></g><g transform="translate(797.4,512.0) rotate(135)"><line x1="0" y1="0" x2="13.5" y2="0" stroke="#000" stroke-width="2.2"/><rect x="12.8" y="-2.3" width="6.9" height="4.6" rx="1.6" fill="#fff" stroke="#000" stroke-width="1.3"/></g><line x1="828.1" y1="388" x2="828.1" y2="623.2" stroke="#000" stroke-width="2"/><g transform="translate(828.1,404.3) rotate(135)"><line x1="0" y1="0" x2="13.5" y2="0" stroke="#000" stroke-width="2.2"/><rect x="12.8" y="-2.3" width="6.9" height="4.6" rx="1.6" fill="#fff" stroke="#000" stroke-width="1.3"/></g><g transform="translate(828.1,430.3) rotate(45)"><line x1="0" y1="0" x2="13.5" y2="0" stroke="#000" stroke-width="2.2"/><rect x="12.8" y="-2.3" width="6.9" height="4.6" rx="1.6" fill="#fff" stroke="#000" stroke-width="1.3"/></g><g transform="translate(828.1,457.2) rotate(135)"><line x1="0" y1="0" x2="13.5" y2="0" stroke="#000" stroke-width="2.2"/><rect x="12.8" y="-2.3" width="6.9" height="4.6" rx="1.6" fill="#fff" stroke="#000" stroke-width="1.3"/></g><g transform="translate(828.1,512.0) rotate(135)"><line x1="0" y1="0" x2="13.5" y2="0" stroke="#000" stroke-width="2.2"/><rect x="12.8" y="-2.3" width="6.9" height="4.6" rx="1.6" fill="#fff" stroke="#000" stroke-width="1.3"/></g><g transform="translate(828.1,539.2) rotate(45)"><line x1="0" y1="0" x2="13.5" y2="0" stroke="#000" stroke-width="2.2"/><rect x="12.8" y="-2.3" width="6.9" height="4.6" rx="1.6" fill="#fff" stroke="#000" stroke-width="1.3"/></g><g transform="translate(828.1,568.4) rotate(135)"><line x1="0" y1="0" x2="13.5" y2="0" stroke="#000" stroke-width="2.2"/><rect x="12.8" y="-2.3" width="6.9" height="4.6" rx="1.6" fill="#fff" stroke="#000" stroke-width="1.3"/></g><g transform="translate(828.1,595.0) rotate(45)"><line x1="0" y1="0" x2="13.5" y2="0" stroke="#000" stroke-width="2.2"/><rect x="12.8" y="-2.3" width="6.9" height="4.6" rx="1.6" fill="#fff" stroke="#000" stroke-width="1.3"/></g><g transform="translate(828.1,622.6) rotate(135)"><line x1="0" y1="0" x2="13.5" y2="0" stroke="#000" stroke-width="2.2"/><rect x="12.8" y="-2.3" width="6.9" height="4.6" rx="1.6" fill="#fff" stroke="#000" stroke-width="1.3"/></g><line x1="857.8" y1="388" x2="857.8" y2="457.8" stroke="#000" stroke-width="2"/><g transform="translate(857.8,404.3) rotate(135)"><line x1="0" y1="0" x2="13.5" y2="0" stroke="#000" stroke-width="2.2"/><rect x="12.8" y="-2.3" width="6.9" height="4.6" rx="1.6" fill="#fff" stroke="#000" stroke-width="1.3"/></g><g transform="translate(857.8,430.3) rotate(45)"><line x1="0" y1="0" x2="13.5" y2="0" stroke="#000" stroke-width="2.2"/><rect x="12.8" y="-2.3" width="6.9" height="4.6" rx="1.6" fill="#fff" stroke="#000" stroke-width="1.3"/></g><g transform="translate(857.8,457.2) rotate(135)"><line x1="0" y1="0" x2="13.5" y2="0" stroke="#000" stroke-width="2.2"/><rect x="12.8" y="-2.3" width="6.9" height="4.6" rx="1.6" fill="#fff" stroke="#000" stroke-width="1.3"/></g><line x1="887.4" y1="388" x2="887.4" y2="512.6" stroke="#000" stroke-width="2"/><g transform="translate(887.4,432.5) rotate(45)"><line x1="0" y1="0" x2="13.5" y2="0" stroke="#000" stroke-width="2.2"/><rect x="12.8" y="-2.3" width="6.9" height="4.6" rx="1.6" fill="#fff" stroke="#000" stroke-width="1.3"/></g><g transform="translate(887.4,457.2) rotate(135)"><line x1="0" y1="0" x2="13.5" y2="0" stroke="#000" stroke-width="2.2"/><rect x="12.8" y="-2.3" width="6.9" height="4.6" rx="1.6" fill="#fff" stroke="#000" stroke-width="1.3"/></g><g transform="translate(887.4,485.4) rotate(45)"><line x1="0" y1="0" x2="13.5" y2="0" stroke="#000" stroke-width="2.2"/><rect x="12.8" y="-2.3" width="6.9" height="4.6" rx="1.6" fill="#fff" stroke="#000" stroke-width="1.3"/></g><g transform="translate(887.4,512.0) rotate(135)"><line x1="0" y1="0" x2="13.5" y2="0" stroke="#000" stroke-width="2.2"/><rect x="12.8" y="-2.3" width="6.9" height="4.6" rx="1.6" fill="#fff" stroke="#000" stroke-width="1.3"/></g><line x1="918.1" y1="388" x2="918.1" y2="623.2" stroke="#000" stroke-width="2"/><g transform="translate(918.1,404.3) rotate(135)"><line x1="0" y1="0" x2="13.5" y2="0" stroke="#000" stroke-width="2.2"/><rect x="12.8" y="-2.3" width="6.9" height="4.6" rx="1.6" fill="#fff" stroke="#000" stroke-width="1.3"/></g><g transform="translate(918.1,430.3) rotate(45)"><line x1="0" y1="0" x2="13.5" y2="0" stroke="#000" stroke-width="2.2"/><rect x="12.8" y="-2.3" width="6.9" height="4.6" rx="1.6" fill="#fff" stroke="#000" stroke-width="1.3"/></g><g transform="translate(918.1,457.2) rotate(135)"><line x1="0" y1="0" x2="13.5" y2="0" stroke="#000" stroke-width="2.2"/><rect x="12.8" y="-2.3" width="6.9" height="4.6" rx="1.6" fill="#fff" stroke="#000" stroke-width="1.3"/></g><g transform="translate(918.1,512.0) rotate(135)"><line x1="0" y1="0" x2="13.5" y2="0" stroke="#000" stroke-width="2.2"/><rect x="12.8" y="-2.3" width="6.9" height="4.6" rx="1.6" fill="#fff" stroke="#000" stroke-width="1.3"/></g><g transform="translate(918.1,539.2) rotate(45)"><line x1="0" y1="0" x2="13.5" y2="0" stroke="#000" stroke-width="2.2"/><rect x="12.8" y="-2.3" width="6.9" height="4.6" rx="1.6" fill="#fff" stroke="#000" stroke-width="1.3"/></g><g transform="translate(918.1,568.4) rotate(135)"><line x1="0" y1="0" x2="13.5" y2="0" stroke="#000" stroke-width="2.2"/><rect x="12.8" y="-2.3" width="6.9" height="4.6" rx="1.6" fill="#fff" stroke="#000" stroke-width="1.3"/></g><g transform="translate(918.1,595.0) rotate(45)"><line x1="0" y1="0" x2="13.5" y2="0" stroke="#000" stroke-width="2.2"/><rect x="12.8" y="-2.3" width="6.9" height="4.6" rx="1.6" fill="#fff" stroke="#000" stroke-width="1.3"/></g><g transform="translate(918.1,622.6) rotate(135)"><line x1="0" y1="0" x2="13.5" y2="0" stroke="#000" stroke-width="2.2"/><rect x="12.8" y="-2.3" width="6.9" height="4.6" rx="1.6" fill="#fff" stroke="#000" stroke-width="1.3"/></g><line x1="948.3" y1="388" x2="948.3" y2="457.8" stroke="#000" stroke-width="2"/><g transform="translate(948.3,404.3) rotate(135)"><line x1="0" y1="0" x2="13.5" y2="0" stroke="#000" stroke-width="2.2"/><rect x="12.8" y="-2.3" width="6.9" height="4.6" rx="1.6" fill="#fff" stroke="#000" stroke-width="1.3"/></g><g transform="translate(948.3,430.3) rotate(45)"><line x1="0" y1="0" x2="13.5" y2="0" stroke="#000" stroke-width="2.2"/><rect x="12.8" y="-2.3" width="6.9" height="4.6" rx="1.6" fill="#fff" stroke="#000" stroke-width="1.3"/></g><g transform="translate(948.3,457.2) rotate(135)"><line x1="0" y1="0" x2="13.5" y2="0" stroke="#000" stroke-width="2.2"/><rect x="12.8" y="-2.3" width="6.9" height="4.6" rx="1.6" fill="#fff" stroke="#000" stroke-width="1.3"/></g><path d="M248.8,465.3 L290,673.8 H323" fill="none" stroke="#000" stroke-width="1.2"/><path d="M474.5,673.8 H519.7 L944,633.5" fill="none" stroke="#000" stroke-width="1.2"/><rect x="323" y="656.1" width="151.6" height="35.1" fill="#111"/><text x="329.8" y="680.6" font-size="18.7" fill="#fff" textLength="136.8" lengthAdjust="spacingAndGlyphs">Nr. LED-uri: 429</text><text x="53.3" y="693.8" font-size="25" fill="#111" textLength="205.3" lengthAdjust="spacingAndGlyphs">Mărimea LED-ului</text><circle cx="155" cy="839" r="76.8" fill="#fff" stroke="#000" stroke-width="1.3"/><rect x="146.3" y="767.5" width="16.5" height="88.8" fill="#fff" stroke="#000" stroke-width="1.3"/><path d="M144.4,755.5 V746.5 A10.45,10.45 0 0 1 165.3,746.5 V755.5 Z" fill="#fff" stroke="#000" stroke-width="1.4"/><path d="M146.6,755 V747 A8.3,8.3 0 0 1 163.2,747" fill="none" stroke="#888" stroke-width="0.8"/><rect x="142.3" y="755.5" width="24.4" height="12" fill="#fff" stroke="#000" stroke-width="1.4"/><line x1="128.4" y1="760" x2="128.4" y2="852" stroke="#000" stroke-width="3.5"/><path d="M128.4,755.3 L123.2,761.5 L133.6,761.5 Z M128.4,857.3 L123.2,851 L133.6,851 Z" fill="#000"/><line x1="147" y1="728" x2="163.5" y2="728" stroke="#000" stroke-width="3.2"/><path d="M143.8,728 L149,723.2 L149,732.8 Z M166.8,728 L161.6,723.2 L161.6,732.8 Z" fill="#000"/><line x1="174.4" y1="738" x2="174.4" y2="753" stroke="#000" stroke-width="3.4"/><path d="M174.4,734.6 L169.4,740 L179.4,740 Z M174.4,756.5 L169.4,751 L179.4,751 Z" fill="#000"/><text x="142.3" y="718.5" font-size="11.2" fill="#111" stroke="#111" stroke-width="0.3" textLength="28.3" lengthAdjust="spacingAndGlyphs">5mm</text><text x="181" y="748.4" font-size="11.2" fill="#111" stroke="#111" stroke-width="0.3" textLength="28.8" lengthAdjust="spacingAndGlyphs">5mm</text><text x="88.2" y="814" font-size="11.2" fill="#111" stroke="#111" stroke-width="0.3" textLength="35.8" lengthAdjust="spacingAndGlyphs">25mm</text><rect x="227.2" y="808.7" width="168" height="61" fill="#111"/><text x="236.2" y="833.1" font-size="17.2" fill="#fff" textLength="151.5" lengthAdjust="spacingAndGlyphs">LED-uri cu lumină</text><text x="236.2" y="855.6" font-size="17.2" fill="#fff" textLength="78.5" lengthAdjust="spacingAndGlyphs">puternică</text><g fill="none" stroke="#000" stroke-width="1.55" stroke-linecap="round"><path fill="#fff" d="M59,863.8 L74,868.7 C85,867 100,866 120,865.3 C126,865.5 130,865.9 133.3,865.9 C138,862 142,860 146,859.2 C150,858.3 154,857.8 157.5,857.8 C163,858.5 168,859.5 171.9,860.1 C177,859.8 181,859.6 185,859.5 C192,859.3 197,859.1 202.3,859.2 C210,859.8 215,860.5 219.6,861 C224,861.5 226,861.8 228.8,862.1 C235,862.8 239,863.2 242.7,863.8 C247,864.8 250,866 253,867.3 L241.5,883.2 C234,882.5 226,881.5 219.6,880.6 C213,879.5 208,877.8 202.3,877.1 C196,876.6 190,876.3 185,876.2 C181,876 178,875.6 175.4,875.1 C172,876.5 170,877.8 166.1,878.3 C160,878.5 154,878.2 148.8,878 C142,879 137,880.2 132.7,880.9 C128,882 126,882.8 125,883.1 C110,884.5 102,885 94.2,884.9 C90,884.6 86,883.5 81,882.3 C79,882.2 76,882.5 72.3,883.4 Z"/><path d="M59,863.8 C70,867.5 80,870.5 88,873 C100,876.5 112,879 120,879.1 C126,879.5 130,880.5 132.7,880.9"/><path d="M74,868.7 C80,870.5 88,871.6 100,871.6 C110,871.5 116,871.4 120,871.4 C128,872 133,872.5 137.3,872.8 C143,874.5 147,876.5 151.7,877.7 C156,878.2 161,878.4 166.1,878.3 C170,877.8 173,876.5 175.4,875.1"/><path d="M63.6,871.6 C75,877 85,881 94.2,884.6"/><path d="M133.3,865.9 C138,865.5 143,864.8 148.8,864.7 C155,865.5 160,868 165,870.5 C169,872.3 172,873.8 175.4,875.1 C180,876 185,876.7 190,877.4"/><path d="M133.3,865.9 C140,868 147,870.5 154.6,871.6 C159,872 163,871.8 167.3,871.4"/><path d="M157.5,857.8 C165,862 171,866 177.7,869.9 C182,870.8 186,871.3 190,872.3 C195,874.5 200,876 205.2,877.1"/><path d="M160,858 C168,859.5 174,860.3 180,861 C184,861.6 185,862 188,862.4 C195,863.5 201,864.2 208,865 C214,866.5 220,867.8 225.4,869 C232,871 239,873.3 245.6,875.4"/><path d="M199.4,859.8 C206,861 213,862.5 219.6,863.8 C226,865 231,866.5 236.9,867.9 C241,869.3 245,870.8 249.6,872.5"/><path d="M185,867.3 C193,869.5 200,871.5 208,873.1 C214,874.5 220,876 225.4,877.1 C231,878 237,878.8 242.7,879.4"/><path d="M213.8,873.1 C220,873.5 226,873.8 231.1,874.2 C236,875.5 240,876.5 242.7,877.7"/></g><rect x="148" y="856.3" width="10" height="2.5" fill="#fff" stroke="#000" stroke-width="1"/><text x="955" y="668.8" font-size="25" fill="#111" textLength="95" lengthAdjust="spacingAndGlyphs">Spațiere</text><line x1="864.7" y1="693" x2="1118" y2="693" stroke="#000" stroke-width="2.2"/><line x1="887.2" y1="693" x2="887.2" y2="761.4" stroke="#000" stroke-width="2"/><g transform="translate(887.2,706.8) rotate(135)"><line x1="0" y1="0" x2="13.5" y2="0" stroke="#000" stroke-width="2.2"/><rect x="12.8" y="-2.3" width="6.9" height="4.6" rx="1.6" fill="#fff" stroke="#000" stroke-width="1.3"/></g><g transform="translate(887.2,733.2) rotate(45)"><line x1="0" y1="0" x2="13.5" y2="0" stroke="#000" stroke-width="2.2"/><rect x="12.8" y="-2.3" width="6.9" height="4.6" rx="1.6" fill="#fff" stroke="#000" stroke-width="1.3"/></g><g transform="translate(887.2,760.8) rotate(135)"><line x1="0" y1="0" x2="13.5" y2="0" stroke="#000" stroke-width="2.2"/><rect x="12.8" y="-2.3" width="6.9" height="4.6" rx="1.6" fill="#fff" stroke="#000" stroke-width="1.3"/></g><line x1="927.5" y1="693" x2="927.5" y2="816.6" stroke="#000" stroke-width="2"/><g transform="translate(927.5,735.4) rotate(45)"><line x1="0" y1="0" x2="13.5" y2="0" stroke="#000" stroke-width="2.2"/><rect x="12.8" y="-2.3" width="6.9" height="4.6" rx="1.6" fill="#fff" stroke="#000" stroke-width="1.3"/></g><g transform="translate(927.5,760.8) rotate(135)"><line x1="0" y1="0" x2="13.5" y2="0" stroke="#000" stroke-width="2.2"/><rect x="12.8" y="-2.3" width="6.9" height="4.6" rx="1.6" fill="#fff" stroke="#000" stroke-width="1.3"/></g><g transform="translate(927.5,789.6) rotate(45)"><line x1="0" y1="0" x2="13.5" y2="0" stroke="#000" stroke-width="2.2"/><rect x="12.8" y="-2.3" width="6.9" height="4.6" rx="1.6" fill="#fff" stroke="#000" stroke-width="1.3"/></g><g transform="translate(927.5,816.0) rotate(135)"><line x1="0" y1="0" x2="13.5" y2="0" stroke="#000" stroke-width="2.2"/><rect x="12.8" y="-2.3" width="6.9" height="4.6" rx="1.6" fill="#fff" stroke="#000" stroke-width="1.3"/></g><line x1="971.6" y1="693" x2="971.6" y2="926.0" stroke="#000" stroke-width="2"/><g transform="translate(971.6,706.8) rotate(135)"><line x1="0" y1="0" x2="13.5" y2="0" stroke="#000" stroke-width="2.2"/><rect x="12.8" y="-2.3" width="6.9" height="4.6" rx="1.6" fill="#fff" stroke="#000" stroke-width="1.3"/></g><g transform="translate(971.6,733.2) rotate(45)"><line x1="0" y1="0" x2="13.5" y2="0" stroke="#000" stroke-width="2.2"/><rect x="12.8" y="-2.3" width="6.9" height="4.6" rx="1.6" fill="#fff" stroke="#000" stroke-width="1.3"/></g><g transform="translate(971.6,760.8) rotate(135)"><line x1="0" y1="0" x2="13.5" y2="0" stroke="#000" stroke-width="2.2"/><rect x="12.8" y="-2.3" width="6.9" height="4.6" rx="1.6" fill="#fff" stroke="#000" stroke-width="1.3"/></g><g transform="translate(971.6,789.6) rotate(45)"><line x1="0" y1="0" x2="13.5" y2="0" stroke="#000" stroke-width="2.2"/><rect x="12.8" y="-2.3" width="6.9" height="4.6" rx="1.6" fill="#fff" stroke="#000" stroke-width="1.3"/></g><g transform="translate(971.6,816.0) rotate(135)"><line x1="0" y1="0" x2="13.5" y2="0" stroke="#000" stroke-width="2.2"/><rect x="12.8" y="-2.3" width="6.9" height="4.6" rx="1.6" fill="#fff" stroke="#000" stroke-width="1.3"/></g><g transform="translate(971.6,843.3) rotate(45)"><line x1="0" y1="0" x2="13.5" y2="0" stroke="#000" stroke-width="2.2"/><rect x="12.8" y="-2.3" width="6.9" height="4.6" rx="1.6" fill="#fff" stroke="#000" stroke-width="1.3"/></g><g transform="translate(971.6,873.8) rotate(135)"><line x1="0" y1="0" x2="13.5" y2="0" stroke="#000" stroke-width="2.2"/><rect x="12.8" y="-2.3" width="6.9" height="4.6" rx="1.6" fill="#fff" stroke="#000" stroke-width="1.3"/></g><g transform="translate(971.6,898.6) rotate(45)"><line x1="0" y1="0" x2="13.5" y2="0" stroke="#000" stroke-width="2.2"/><rect x="12.8" y="-2.3" width="6.9" height="4.6" rx="1.6" fill="#fff" stroke="#000" stroke-width="1.3"/></g><g transform="translate(971.6,925.4) rotate(135)"><line x1="0" y1="0" x2="13.5" y2="0" stroke="#000" stroke-width="2.2"/><rect x="12.8" y="-2.3" width="6.9" height="4.6" rx="1.6" fill="#fff" stroke="#000" stroke-width="1.3"/></g><line x1="1011.6" y1="693" x2="1011.6" y2="761.4" stroke="#000" stroke-width="2"/><g transform="translate(1011.6,706.8) rotate(135)"><line x1="0" y1="0" x2="13.5" y2="0" stroke="#000" stroke-width="2.2"/><rect x="12.8" y="-2.3" width="6.9" height="4.6" rx="1.6" fill="#fff" stroke="#000" stroke-width="1.3"/></g><g transform="translate(1011.6,733.2) rotate(45)"><line x1="0" y1="0" x2="13.5" y2="0" stroke="#000" stroke-width="2.2"/><rect x="12.8" y="-2.3" width="6.9" height="4.6" rx="1.6" fill="#fff" stroke="#000" stroke-width="1.3"/></g><g transform="translate(1011.6,760.8) rotate(135)"><line x1="0" y1="0" x2="13.5" y2="0" stroke="#000" stroke-width="2.2"/><rect x="12.8" y="-2.3" width="6.9" height="4.6" rx="1.6" fill="#fff" stroke="#000" stroke-width="1.3"/></g><line x1="1051.9" y1="693" x2="1051.9" y2="816.6" stroke="#000" stroke-width="2"/><g transform="translate(1051.9,735.4) rotate(45)"><line x1="0" y1="0" x2="13.5" y2="0" stroke="#000" stroke-width="2.2"/><rect x="12.8" y="-2.3" width="6.9" height="4.6" rx="1.6" fill="#fff" stroke="#000" stroke-width="1.3"/></g><g transform="translate(1051.9,760.8) rotate(135)"><line x1="0" y1="0" x2="13.5" y2="0" stroke="#000" stroke-width="2.2"/><rect x="12.8" y="-2.3" width="6.9" height="4.6" rx="1.6" fill="#fff" stroke="#000" stroke-width="1.3"/></g><g transform="translate(1051.9,789.6) rotate(45)"><line x1="0" y1="0" x2="13.5" y2="0" stroke="#000" stroke-width="2.2"/><rect x="12.8" y="-2.3" width="6.9" height="4.6" rx="1.6" fill="#fff" stroke="#000" stroke-width="1.3"/></g><g transform="translate(1051.9,816.0) rotate(135)"><line x1="0" y1="0" x2="13.5" y2="0" stroke="#000" stroke-width="2.2"/><rect x="12.8" y="-2.3" width="6.9" height="4.6" rx="1.6" fill="#fff" stroke="#000" stroke-width="1.3"/></g><line x1="1095.9" y1="693" x2="1095.9" y2="926.0" stroke="#000" stroke-width="2"/><g transform="translate(1095.9,706.8) rotate(135)"><line x1="0" y1="0" x2="13.5" y2="0" stroke="#000" stroke-width="2.2"/><rect x="12.8" y="-2.3" width="6.9" height="4.6" rx="1.6" fill="#fff" stroke="#000" stroke-width="1.3"/></g><g transform="translate(1095.9,733.2) rotate(45)"><line x1="0" y1="0" x2="13.5" y2="0" stroke="#000" stroke-width="2.2"/><rect x="12.8" y="-2.3" width="6.9" height="4.6" rx="1.6" fill="#fff" stroke="#000" stroke-width="1.3"/></g><g transform="translate(1095.9,760.8) rotate(135)"><line x1="0" y1="0" x2="13.5" y2="0" stroke="#000" stroke-width="2.2"/><rect x="12.8" y="-2.3" width="6.9" height="4.6" rx="1.6" fill="#fff" stroke="#000" stroke-width="1.3"/></g><g transform="translate(1095.9,789.6) rotate(45)"><line x1="0" y1="0" x2="13.5" y2="0" stroke="#000" stroke-width="2.2"/><rect x="12.8" y="-2.3" width="6.9" height="4.6" rx="1.6" fill="#fff" stroke="#000" stroke-width="1.3"/></g><g transform="translate(1095.9,816.0) rotate(135)"><line x1="0" y1="0" x2="13.5" y2="0" stroke="#000" stroke-width="2.2"/><rect x="12.8" y="-2.3" width="6.9" height="4.6" rx="1.6" fill="#fff" stroke="#000" stroke-width="1.3"/></g><g transform="translate(1095.9,843.3) rotate(45)"><line x1="0" y1="0" x2="13.5" y2="0" stroke="#000" stroke-width="2.2"/><rect x="12.8" y="-2.3" width="6.9" height="4.6" rx="1.6" fill="#fff" stroke="#000" stroke-width="1.3"/></g><g transform="translate(1095.9,873.8) rotate(135)"><line x1="0" y1="0" x2="13.5" y2="0" stroke="#000" stroke-width="2.2"/><rect x="12.8" y="-2.3" width="6.9" height="4.6" rx="1.6" fill="#fff" stroke="#000" stroke-width="1.3"/></g><g transform="translate(1095.9,898.6) rotate(45)"><line x1="0" y1="0" x2="13.5" y2="0" stroke="#000" stroke-width="2.2"/><rect x="12.8" y="-2.3" width="6.9" height="4.6" rx="1.6" fill="#fff" stroke="#000" stroke-width="1.3"/></g><g transform="translate(1095.9,925.4) rotate(135)"><line x1="0" y1="0" x2="13.5" y2="0" stroke="#000" stroke-width="2.2"/><rect x="12.8" y="-2.3" width="6.9" height="4.6" rx="1.6" fill="#fff" stroke="#000" stroke-width="1.3"/></g><path d="M756.8,752.1 L887,734 M756.8,752.1 L887,759.2" fill="none" stroke="#000" stroke-width="1.2"/><text x="715.5" y="754.6" font-size="14.2" fill="#111" stroke="#111" stroke-width="0.3" textLength="30.5" lengthAdjust="spacingAndGlyphs">9cm</text><line x1="1019" y1="869.9" x2="1048" y2="869.9" stroke="#000" stroke-width="5"/><path d="M1014.4,869.9 L1021.5,863.8 L1021.5,876 Z M1052.8,869.9 L1045.7,863.8 L1045.7,876 Z" fill="#000"/><text x="1015.8" y="894.1" font-size="15" fill="#111" stroke="#111" stroke-width="0.3" textLength="37.5" lengthAdjust="spacingAndGlyphs">16cm</text><line x1="1131.9" y1="702" x2="1131.9" y2="934" stroke="#000" stroke-width="5.6"/><path d="M1131.9,698.2 L1124.9,704.5 L1138.9,704.5 Z M1131.9,938 L1124.9,931.7 L1138.9,931.7 Z" fill="#000"/><text x="1149.2" y="815.6" font-size="15.2" fill="#111" stroke="#111" stroke-width="0.3" textLength="34.8" lengthAdjust="spacingAndGlyphs">0,7m</text><text x="128.8" y="990.5" font-size="23" fill="#111" textLength="957.3" lengthAdjust="spacingAndGlyphs">*Dimensiunile produsului sunt aproximative și variază din cauza îndoiturilor din cablu.</text></svg></body></html>
